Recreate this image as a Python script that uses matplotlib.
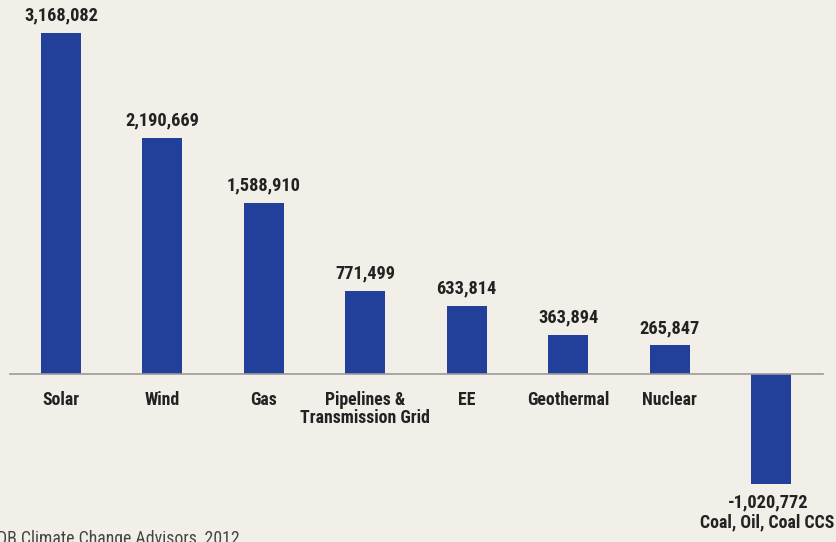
import matplotlib
matplotlib.use("Agg")
import matplotlib.pyplot as plt
from matplotlib import font_manager

categories = ["Solar", "Wind", "Gas", "Pipelines &\nTransmission Grid", "EE",
              "Geothermal", "Nuclear", "Coal, Oil, Coal CCS"]
values = [3168082, 2190669, 1588910, 771499, 633814, 363894, 265847, -1020772]
source = "DB Climate Change Advisors, 2012"

names = {f.name for f in font_manager.fontManager.ttflist}
fam = "DejaVu Sans"
for cand in ["Roboto Condensed", "Barlow Condensed", "Archivo Narrow", "Asap Condensed"]:
    if cand in names:
        fam = cand
        break

BG = "#f2eee8"
BAR = "#22409a"
TXT = "#222222"

fig = plt.figure(figsize=(8.36, 5.42), dpi=100, facecolor=BG)
ax = fig.add_axes([0, 0, 1, 1])
ax.set_facecolor(BG)

step = 101.43
x0 = 61
ax.set_xlim(-x0 / step, (836 - x0) / step)
scale = 9290.6
ax.set_ylim(-(542 - 374) * scale, 374 * scale)
ax.axis("off")

xs = list(range(len(values)))
ax.bar(xs, values, width=40 / step, color=BAR, zorder=2)
ax.plot([(10 - x0) / step, (823 - x0) / step], [0, 0], color="#9a9a9a", lw=1.2, zorder=3)

vfs = 13.2
cfs = 12.8
for x, v, c in zip(xs, values, categories):
    lab = f"{v:,}"
    if v >= 0:
        ax.annotate(lab, (x, v), xytext=(0, 6), textcoords="offset points",
                    ha="center", va="bottom", fontsize=vfs, fontweight="bold",
                    family=fam, color=TXT)
        ax.annotate(c, (x, 0), xytext=(0, -12), textcoords="offset points",
                    ha="center", va="top", fontsize=cfs, fontweight="bold",
                    family=fam, color=TXT, linespacing=1.0)
    else:
        ax.annotate(lab, (x, v), xytext=(-2, -7), textcoords="offset points",
                    ha="center", va="top", fontsize=vfs, fontweight="bold",
                    family=fam, color=TXT)
        ax.annotate(c, (x, v), xytext=(-3, -21), textcoords="offset points",
                    ha="center", va="top", fontsize=cfs, fontweight="bold",
                    family=fam, color=TXT)

fig.text(-0.003, -1.5 / 542, source, ha="left", va="baseline", fontsize=12.8,
         family=fam, color="#444444")

fig.savefig("out.png", dpi=100, facecolor=BG)
